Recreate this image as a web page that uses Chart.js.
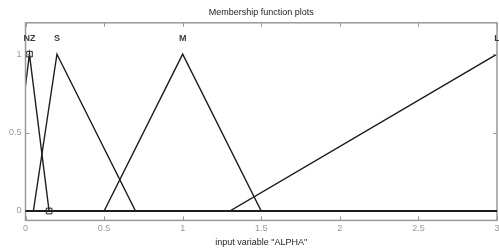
<!DOCTYPE html>
<html>
<head>
<meta charset="utf-8">
<script src="https://cdn.jsdelivr.net/npm/chart.js@4.4.0/dist/chart.umd.min.js"></script>
<style>
  html, body { margin: 0; padding: 0; background: #fff; }
  #wrap { width: 499px; height: 250px; }
</style>
</head>
<body>
<div id="wrap"><canvas id="mf"></canvas></div>
<script>
// tick labels
const xTicks = [0, 0.5, 1, 1.5, 2, 2.5, 3];
const yTicks = [0, 0.5, 1];

// membership functions (x, y vertices over the input range 0..3)
const mfNames = ['NZ', 'S', 'M', 'L'];
const nzX = [0, 0.025, 0.15, 3];
const nzY = [0.8, 1, 0, 0];
const sX = [0, 0.05, 0.2, 0.7, 3];
const sY = [0, 0, 1, 0, 0];
const mX = [0, 0.5, 1, 1.5, 3];
const mY = [0, 0, 1, 0, 0];
const lX = [0, 1.3, 3];
const lY = [0, 0, 1];
const peaks = [0.025, 0.2, 1, 3];

const pts = (xs, ys) => xs.map((x, i) => ({ x: x, y: ys[i] }));
const lineStyle = {
  borderColor: '#1e1e1e',
  borderWidth: 1.4,
  showLine: true,
  fill: false,
  tension: 0,
  pointRadius: 0
};
const fontFam = '"Liberation Sans", Arial, sans-serif';

// inward ticks, box and MF names
const decor = {
  id: 'decor',
  afterDatasetsDraw(chart) {
    const { ctx, chartArea: a, scales: { x, y } } = chart;
    ctx.save();
    ctx.strokeStyle = '#999';
    ctx.lineWidth = 1.5;
    ctx.strokeRect(a.left, a.top, a.right - a.left, a.bottom - a.top);
    ctx.lineWidth = 1;
    ctx.beginPath();
    xTicks.forEach(v => {
      const px = Math.round(x.getPixelForValue(v)) + 0.5;
      ctx.moveTo(px, a.bottom); ctx.lineTo(px, a.bottom - 4);
      ctx.moveTo(px, a.top); ctx.lineTo(px, a.top + 4);
    });
    yTicks.forEach(v => {
      const py = Math.round(y.getPixelForValue(v)) + 0.5;
      ctx.moveTo(a.left, py); ctx.lineTo(a.left + 4, py);
      ctx.moveTo(a.right, py); ctx.lineTo(a.right - 4, py);
    });
    ctx.stroke();
    // thicker zero line, as in the original
    const y0 = y.getPixelForValue(0);
    ctx.strokeStyle = '#1e1e1e';
    ctx.lineWidth = 2;
    ctx.beginPath();
    ctx.moveTo(a.left, y0); ctx.lineTo(a.right, y0);
    ctx.stroke();
    ctx.fillStyle = '#3a3a44';
    ctx.font = 'bold 9px ' + fontFam;
    ctx.textAlign = 'center';
    ctx.textBaseline = 'middle';
    mfNames.forEach((n, i) => {
      ctx.fillText(n, x.getPixelForValue(peaks[i]), y.getPixelForValue(1.1));
    });
    ctx.restore();
  }
};

new Chart(document.getElementById('mf'), {
  type: 'scatter',
  data: {
    datasets: [
      Object.assign({}, lineStyle, {
        label: 'NZ',
        data: pts(nzX, nzY),
        pointStyle: 'rect',
        pointRadius: [0, 4, 4, 0],
        pointBackgroundColor: 'rgba(255,255,255,0)',
        pointBorderColor: '#1e1e1e',
        pointBorderWidth: 1
      }),
      Object.assign({}, lineStyle, { label: 'S', data: pts(sX, sY) }),
      Object.assign({}, lineStyle, { label: 'M', data: pts(mX, mY) }),
      Object.assign({}, lineStyle, { label: 'L', data: pts(lX, lY) })
    ]
  },
  options: {
    responsive: true,
    maintainAspectRatio: false,
    animation: false,
    layout: { padding: { left: 5, right: 2, top: 0, bottom: 0 } },
    plugins: {
      legend: { display: false },
      tooltip: { enabled: false },
      title: {
        display: true,
        fullSize: false,
        text: 'Membership function plots',
        color: '#222',
        font: { family: fontFam, size: 9, weight: 'normal' },
        padding: { top: 7, bottom: 5 }
      }
    },
    scales: {
      x: {
        type: 'linear',
        min: 0,
        max: 3,
        afterBuildTicks: s => { s.ticks = xTicks.map(v => ({ value: v })); },
        afterFit: s => { s.paddingRight = 0; s.paddingLeft = 0; },
        grid: { display: false, drawTicks: false },
        border: { display: false },
        ticks: {
          color: '#999',
          padding: 3,
          maxRotation: 0,
          callback: v => String(v),
          font: { family: fontFam, size: 9 }
        },
        title: {
          display: true,
          text: 'input variable "ALPHA"',
          color: '#222',
          font: { family: fontFam, size: 9 },
          padding: { top: 0, bottom: 2 }
        }
      },
      y: {
        min: -0.06,
        max: 1.2,
        afterBuildTicks: s => { s.ticks = yTicks.map(v => ({ value: v })); },
        grid: { display: false, drawTicks: false },
        border: { display: false },
        ticks: {
          color: '#999',
          padding: 4,
          callback: v => String(v),
          font: { family: fontFam, size: 9 }
        }
      }
    }
  },
  plugins: [decor]
});
</script>
</body>
</html>
